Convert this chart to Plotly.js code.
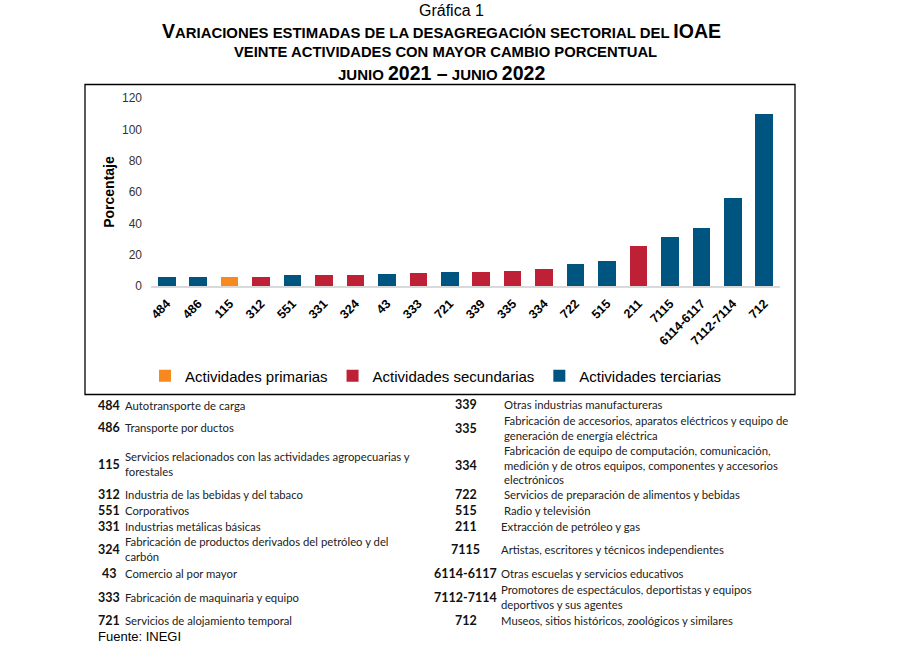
<!DOCTYPE html>
<html>
<head>
<meta charset="utf-8">
<script src="https://cdn.plot.ly/plotly-3.0.1.min.js"></script>
<style>html,body{margin:0;padding:0;background:#fff;}#chart{width:906px;height:657px;}</style>
</head>
<body>
<div id="chart"></div>
<script>
// ---- data ----
const categories = ['484','486','115','312','551','331','324','43','333','721','339','335','334','722','515','211','7115','6114-6117','7112-7114','712'];
const values = [5.5,5.5,6.0,6.0,7.0,7.0,7.0,7.4,8.1,8.7,8.7,9.4,10.8,14.3,16.2,25.5,31.1,37.0,56.2,109.8];
const sectors = ['T','T','P','S','T','S','S','T','S','T','S','S','S','T','T','S','T','T','T','T'];
const sectorKeys = ['P','S','T'];
const sectorNames = ['Actividades primarias','Actividades secundarias','Actividades terciarias'];
const sectorColors = ['#F7891E','#BE2036','#005580'];
const yTicks = [0,20,40,60,80,100,120];

const leftCodes = ['484','486','115','312','551','331','324','43','333','721'];
const leftDescs = ['Autotransporte de carga','Transporte por ductos','Servicios relacionados con las actividades agropecuarias y<br>forestales','Industria de las bebidas y del tabaco','Corporativos','Industrias metálicas básicas','Fabricación de productos derivados del petróleo y del<br>carbón','Comercio al por mayor','Fabricación de maquinaria y equipo','Servicios de alojamiento temporal'];
const rightCodes = ['339','335','334','722','515','211','7115','6114-6117','7112-7114','712'];
const rightDescs = ['Otras industrias manufactureras','Fabricación de accesorios, aparatos eléctricos y equipo de<br>generación de energía eléctrica','Fabricación de equipo de computación, comunicación,<br>medición y de otros equipos, componentes y accesorios<br>electrónicos','Servicios de preparación de alimentos y bebidas','Radio y televisión','Extracción de petróleo y gas','Artistas, escritores y técnicos independientes','Otras escuelas y servicios educativos','Promotores de espectáculos, deportistas y equipos<br>deportivos y sus agentes','Museos, sitios históricos, zoológicos y similares'];

// ---- layout geometry (pixels) ----
const W = 906, H = 657;
const L = 151, R = 780, T = 98, B = 286;
const px = v => (v - L) / (R - L);
const py = v => (B - v) / (B - T);
const leftRowsY = [405, 427, 464, 494, 510, 526, 549, 573, 597, 620];
const rightRowsY = [404, 428, 465, 494, 510, 526, 549, 573, 597, 620];

const traces = sectorKeys.map((k, i) => {
  const xs = [], ys = [];
  categories.forEach((c, j) => { if (sectors[j] === k) { xs.push(c); ys.push(values[j]); } });
  return {type: 'bar', name: sectorNames[i], x: xs, y: ys, marker: {color: sectorColors[i]}, hoverinfo: 'x+y'};
});

const annotations = [];
const addText = (text, x, y, opts) => annotations.push(Object.assign({
  text: text, xref: 'paper', yref: 'paper', x: px(x), y: py(y), showarrow: false,
  xanchor: 'center', yanchor: 'middle'
}, opts));

// titles
const BIG = 'font-size:19.5px';
addText('Gráfica 1', 451, 11, {font: {family: 'Liberation Sans, Arial', size: 16, color: '#000'}});
addText('<b><span style="' + BIG + '">V</span>ARIACIONES ESTIMADAS DE LA DESAGREGACIÓN SECTORIAL DEL <span style="' + BIG + '">IOAE</span></b>', 441, 31,
  {font: {family: 'Liberation Sans, Arial', size: 14.9, color: '#000'}});
addText('<b>VEINTE ACTIVIDADES CON MAYOR CAMBIO PORCENTUAL</b>', 445, 52, {font: {family: 'Liberation Sans, Arial', size: 14.8, color: '#000'}});
addText('<b>JUNIO <span style="' + BIG + '">2021 –</span> JUNIO <span style="' + BIG + '">2022</span></b>', 441, 73,
  {font: {family: 'Liberation Sans, Arial', size: 15, color: '#000'}});

// table
const tFont = {family: 'Lato, Carlito, sans-serif', size: 11.3, color: '#222'};
const cFont = {family: 'Lato, Carlito, sans-serif', size: 12.5, color: '#111'};
leftCodes.forEach((c, i) => {
  addText('<b>' + c + '</b>', 109, leftRowsY[i], {font: cFont});
  addText(leftDescs[i], 123, leftRowsY[i], {xanchor: 'left', align: 'left', font: tFont});
});
rightCodes.forEach((c, i) => {
  addText('<b>' + c + '</b>', 466, rightRowsY[i], {font: cFont});
  addText(rightDescs[i], i < 5 ? 502 : 499, rightRowsY[i], {xanchor: 'left', align: 'left', font: tFont});
});
addText('Fuente: INEGI', 96, 636, {xanchor: 'left', font: {family: 'Liberation Sans, Arial', size: 13, color: '#000'}});

const layout = {
  width: W, height: H,
  margin: {l: L, r: W - R, t: T, b: H - B, pad: 0},
  paper_bgcolor: '#fff', plot_bgcolor: '#fff',
  barmode: 'stack', bargap: 0.44,
  showlegend: true,
  legend: {orientation: 'h', x: px(436), xanchor: 'center', y: py(376), yanchor: 'middle',
    font: {family: 'Liberation Sans, Arial', size: 15, color: '#000'}, itemwidth: 30, traceorder: 'normal'},
  xaxis: {type: 'category', categoryorder: 'array', categoryarray: categories,
    tickangle: -45, tickfont: {family: 'Liberation Sans, Arial', size: 12.5, color: '#000', weight: 'bold'},
    ticklabelstandoff: 4,
    showline: true, linecolor: '#d9d9d9', linewidth: 1.5, ticks: '', showgrid: false, zeroline: false, fixedrange: true},
  yaxis: {range: [0, 120], tickvals: yTicks, ticktext: yTicks.map(String), showgrid: false, zeroline: false, showline: false,
    ticks: '', tickfont: {family: 'Liberation Sans, Arial', size: 12, color: '#333'}, ticklabelstandoff: 8,
    title: {text: '<b>Porcentaje</b>', font: {family: 'Liberation Sans, Arial', size: 14, color: '#000'}, standoff: 4}, fixedrange: true},
  shapes: [{type: 'rect', xref: 'paper', yref: 'paper', x0: px(85), x1: px(795), y0: py(394.5), y1: py(84.5),
    line: {color: '#000', width: 1.3}, fillcolor: 'rgba(0,0,0,0)'}],
  annotations: annotations
};
Plotly.newPlot('chart', traces, layout, {displayModeBar: false, staticPlot: true});
</script>
</body>
</html>
